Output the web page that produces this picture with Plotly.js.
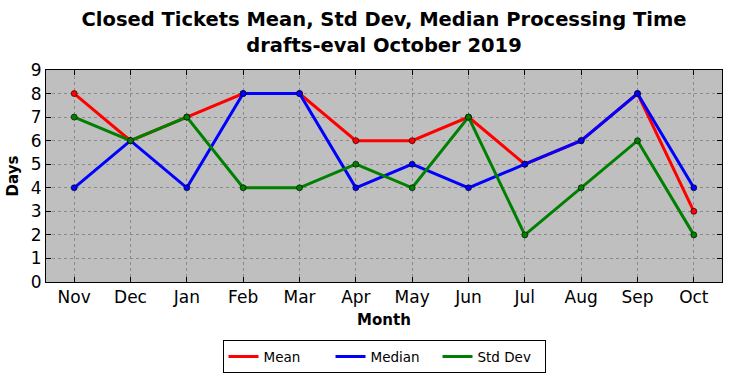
<!DOCTYPE html>
<html>
<head>
<meta charset="utf-8">
<script src="https://cdn.plot.ly/plotly-3.0.1.min.js"></script>
<style>html,body{margin:0;padding:0;background:#fff;}#chart{width:732px;height:378px;}</style>
</head>
<body>
<div id="chart"></div>
<script>
var months = ["Nov","Dec","Jan","Feb","Mar","Apr","May","Jun","Jul","Aug","Sep","Oct"];
var meanVals = [8,6,7,8,8,6,6,7,5,6,8,3];
var medianVals = [4,6,4,8,8,4,5,4,5,6,8,4];
var stdVals = [7,6,7,4,4,5,4,7,2,4,6,2];
var seriesNames = ["Mean","Median","Std Dev"];
var colors = ["#ff0000","#0000ff","#008000"];
var allVals = [meanVals, medianVals, stdVals];

var traces = [];
allVals.forEach(function(v, i){
  traces.push({
    x: months, y: v, type: "scatter", mode: "lines+markers",
    line: {color: colors[i], width: 3},
    marker: {color: colors[i], size: 6, line: {color: "#000", width: 0.6}},
    showlegend: false, hoverinfo: "skip"
  });
});
allVals.forEach(function(v, i){
  traces.push({
    x: [null], y: [null], type: "scatter", mode: "lines",
    name: seriesNames[i], line: {color: colors[i], width: 3}, showlegend: true
  });
});

var layout = {
  width: 732, height: 378,
  margin: {l: 46, r: 10, t: 70, b: 96, autoexpand: false},
  paper_bgcolor: "#fff",
  plot_bgcolor: "#bfbfbf",
  font: {family: "DejaVu Sans", color: "#000"},
  title: {text: "<b>Closed Tickets Mean, Std Dev, Median Processing Time</b><br><b>drafts-eval October 2019</b>",
          x: 0.5, xref: "paper", y: 0.93, yanchor: "top", font: {size: 19.5}},
  xaxis: {
    type: "category", range: [-0.5, 11.5],
    tickfont: {size: 17}, ticks: "inside", ticklen: 5, tickcolor: "#000",
    showline: true, linecolor: "#000", linewidth: 1, mirror: "ticks",
    showgrid: true, gridcolor: "#8a8a8a", griddash: "dot", gridwidth: 1,
    zeroline: false,
    title: {text: "<b>Month</b>", font: {size: 15}, standoff: 8}
  },
  yaxis: {
    range: [0, 9], dtick: 1,
    tickfont: {size: 17}, ticks: "inside", ticklen: 5, tickcolor: "#000",
    showline: true, linecolor: "#000", linewidth: 1, mirror: "ticks",
    showgrid: true, gridcolor: "#8a8a8a", griddash: "dot", gridwidth: 1,
    zeroline: false,
    title: {text: "<b>Days</b>", font: {size: 15}, standoff: 8}
  },
  legend: {
    orientation: "h", x: 0.5, xanchor: "center", xref: "paper",
    y: 0.1, yanchor: "top", yref: "container",
    bordercolor: "#000", borderwidth: 1, bgcolor: "#fff",
    font: {size: 13.5}, itemwidth: 30, entrywidth: 62
  }
};
Plotly.newPlot("chart", traces, layout, {displayModeBar: false, staticPlot: true});
</script>
</body>
</html>
